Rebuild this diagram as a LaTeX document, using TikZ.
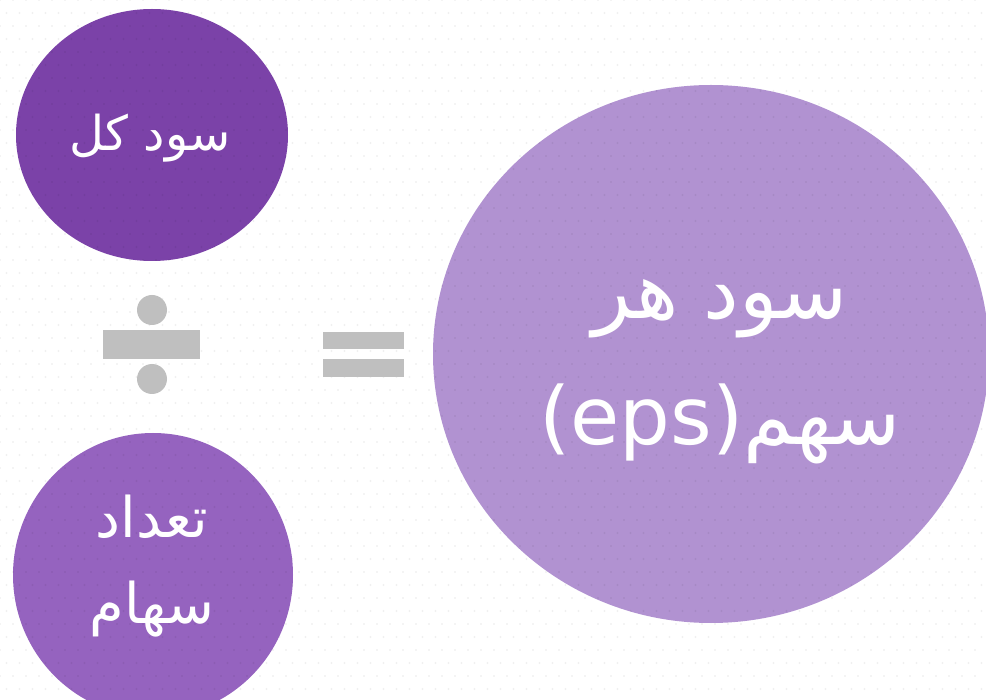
\documentclass[tikz,border=0pt]{standalone}
\usepackage{fontspec}
\usetikzlibrary{shapes.geometric}
\TeXXeTstate=1
\newfontfamily\arabicfont[Script=Arabic]{DejaVu Sans}
\definecolor{darkp}{HTML}{7B42A8}
\definecolor{midp}{HTML}{9563BF}
\definecolor{lightp}{HTML}{B192D1}
\definecolor{symgray}{HTML}{BFBFBF}
\begin{document}
\begin{tikzpicture}[x=1pt,y=-1pt,
  bubble/.style={ellipse, inner sep=0pt, draw=none},
  label/.style={text=white, align=center, inner sep=0pt},
  sym/.style={fill=symgray}]
\useasboundingbox (0,0) rectangle (986,700);
\clip (0,0) rectangle (986,700);
\fill[white] (0,0) rectangle (986,700);
% circles
\node[bubble, fill=darkp, minimum width=272, minimum height=252] (total) at (152,135) {};
\node[bubble, fill=midp, minimum width=280, minimum height=284] (shares) at (153,575) {};
\node[bubble, fill=lightp, minimum width=556, minimum height=538] (eps) at (711,354) {};
% dotted texture
\foreach \r in {0,...,54}{
  \foreach \c in {0,...,76}{
    \fill[black, opacity=0.06] ({\c*13+mod(\r,2)*6.5},{\r*13}) circle (1.1);
  }
}
% texts
\node[label, font=\arabicfont\fontsize{48}{56}\selectfont] (totalT) at (150,138) {\beginR سود کل\endR};
\node[label, font=\arabicfont\fontsize{56}{86}\selectfont] (sharesT) at (152,566) {\beginR تعداد\endR\\\beginR سهام\endR};
\node[label, font=\arabicfont\fontsize{80}{126}\selectfont] (epsT) at (720,372) {\beginR سود هر\endR\\(eps)\beginR سهم\endR};
% division sign
\fill[sym] (103,330) rectangle (200,359);
\fill[sym] (152,310) circle (15);
\fill[sym] (152,379) circle (15);
% equals sign
\fill[sym] (323,332) rectangle (404,349);
\fill[sym] (323,359) rectangle (404,377);
\end{tikzpicture}
\end{document}
